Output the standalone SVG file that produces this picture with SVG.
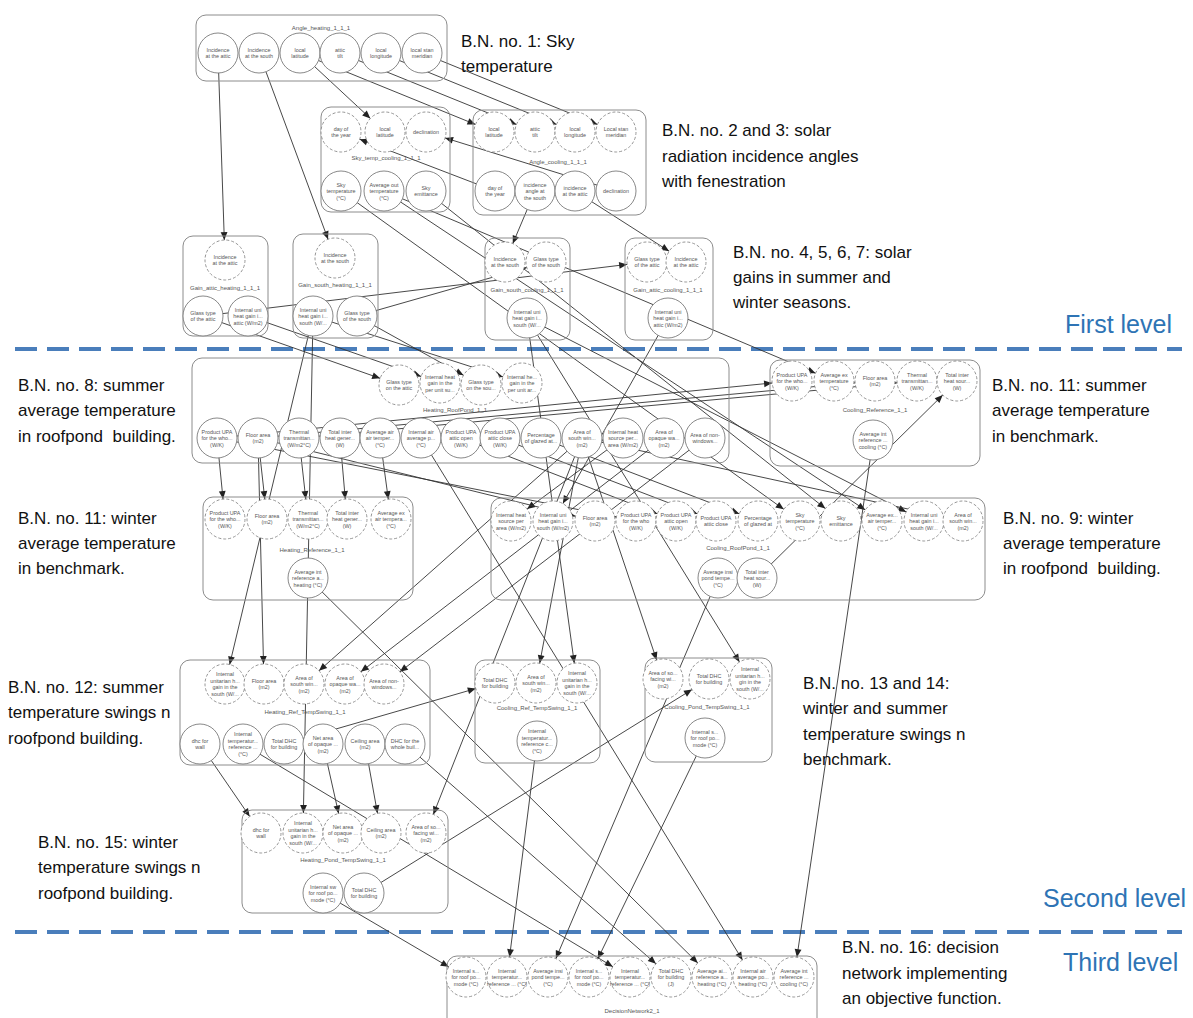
<svg xmlns="http://www.w3.org/2000/svg" width="1193" height="1018" viewBox="0 0 1193 1018">
<style>
.box{fill:none;stroke:#8c8c8c;stroke-width:1}
.s{fill:#fff;stroke:#7a7a7a;stroke-width:0.9}
.d{fill:#fff;stroke:#8a8a8a;stroke-width:0.9;stroke-dasharray:3 2}
.t{font-family:"Liberation Sans",Arial,sans-serif;font-size:5.4px;fill:#555;text-anchor:middle}
.bt{font-family:"Liberation Sans",Arial,sans-serif;font-size:6px;fill:#555;text-anchor:middle}
.ann{font-family:"Liberation Sans",Arial,sans-serif;font-size:17px;fill:#111}
.lvl{font-family:"Liberation Sans",Arial,sans-serif;font-size:25px;fill:#2E74B5}
.sep{stroke:#4A7EBB;stroke-width:4;stroke-dasharray:22 10;fill:none}
#edges line{stroke:#333;stroke-width:0.9;marker-end:url(#ah)}
</style>
<defs>
<marker id="ah" markerUnits="userSpaceOnUse" markerWidth="60" markerHeight="12" refX="48" refY="6" orient="auto" overflow="visible"><path d="M28,6 L20,2.6 L20,9.4 z" fill="#222"/></marker>
</defs>
<rect width="1193" height="1018" fill="#fff"/>

<g id="separators">
<line class="sep" x1="15" y1="349" x2="1182" y2="349"/>
<line class="sep" x1="15" y1="932" x2="1182" y2="932"/>
</g>

<g id="edges">
<line x1="218" y1="53" x2="225" y2="260"/>
<line x1="259" y1="53" x2="335" y2="258"/>
<line x1="300" y1="53" x2="385" y2="132"/>
<line x1="300" y1="53" x2="494" y2="132"/>
<line x1="340" y1="53" x2="535" y2="132"/>
<line x1="381" y1="53" x2="575" y2="132"/>
<line x1="422" y1="53" x2="616" y2="132"/>
<line x1="495" y1="191" x2="341" y2="132"/>
<line x1="616" y1="191" x2="426" y2="132"/>
<line x1="535" y1="191" x2="505" y2="262"/>
<line x1="575" y1="191" x2="686" y2="262"/>
<line x1="341" y1="191" x2="800" y2="521"/>
<line x1="384" y1="191" x2="834" y2="381"/>
<line x1="384" y1="191" x2="882" y2="521"/>
<line x1="426" y1="191" x2="841" y2="521"/>
<line x1="203" y1="316" x2="647" y2="262"/>
<line x1="357" y1="316" x2="546" y2="262"/>
<line x1="203" y1="316" x2="399" y2="385"/>
<line x1="248" y1="316" x2="440" y2="383"/>
<line x1="357" y1="316" x2="481" y2="385"/>
<line x1="313" y1="316" x2="522" y2="383"/>
<line x1="668" y1="318" x2="553" y2="521"/>
<line x1="527" y1="318" x2="924" y2="521"/>
<line x1="527" y1="318" x2="577" y2="683"/>
<line x1="527" y1="318" x2="750" y2="679"/>
<line x1="313" y1="316" x2="225" y2="684"/>
<line x1="313" y1="316" x2="303" y2="833"/>
<line x1="217" y1="438" x2="792" y2="381"/>
<line x1="258" y1="438" x2="875" y2="381"/>
<line x1="299" y1="438" x2="917" y2="381"/>
<line x1="217" y1="438" x2="225" y2="519"/>
<line x1="258" y1="438" x2="267" y2="519"/>
<line x1="299" y1="438" x2="308" y2="519"/>
<line x1="340" y1="438" x2="347" y2="519"/>
<line x1="380" y1="438" x2="391" y2="519"/>
<line x1="623" y1="438" x2="511" y2="521"/>
<line x1="258" y1="438" x2="595" y2="521"/>
<line x1="217" y1="438" x2="636" y2="521"/>
<line x1="461" y1="438" x2="676" y2="521"/>
<line x1="500" y1="438" x2="716" y2="521"/>
<line x1="541" y1="438" x2="758" y2="521"/>
<line x1="582" y1="438" x2="963" y2="521"/>
<line x1="757" y1="578" x2="957" y2="381"/>
<line x1="258" y1="438" x2="264" y2="684"/>
<line x1="582" y1="438" x2="304" y2="684"/>
<line x1="664" y1="438" x2="345" y2="684"/>
<line x1="705" y1="438" x2="384" y2="684"/>
<line x1="582" y1="438" x2="536" y2="683"/>
<line x1="582" y1="438" x2="663" y2="679"/>
<line x1="284" y1="744" x2="495" y2="683"/>
<line x1="364" y1="893" x2="709" y2="679"/>
<line x1="200" y1="744" x2="261" y2="833"/>
<line x1="323" y1="744" x2="343" y2="833"/>
<line x1="365" y1="744" x2="381" y2="833"/>
<line x1="582" y1="438" x2="426" y2="833"/>
<line x1="323" y1="893" x2="466" y2="977"/>
<line x1="537" y1="741" x2="507" y2="977"/>
<line x1="718" y1="578" x2="548" y2="977"/>
<line x1="705" y1="738" x2="589" y2="977"/>
<line x1="243" y1="744" x2="630" y2="977"/>
<line x1="405" y1="744" x2="671" y2="977"/>
<line x1="308" y1="578" x2="712" y2="977"/>
<line x1="421" y1="438" x2="753" y2="977"/>
<line x1="873" y1="440" x2="794" y2="977"/>
</g>

<g id="angle_heating">
<rect class="box" x="196" y="15" width="251" height="66" rx="10"/>
<text class="bt" x="321" y="30">Angle_heating_1_1_1</text>
<g id="ah_inc_attic"><circle class="s" cx="218" cy="53" r="20"/><text class="t" y="51.5"><tspan x="218">Incidence</tspan><tspan x="218" dy="6.5">at the attic</tspan></text></g>
<g id="ah_inc_south"><circle class="s" cx="259" cy="53" r="20"/><text class="t" y="51.5"><tspan x="259">Incidence</tspan><tspan x="259" dy="6.5">at the south</tspan></text></g>
<g id="ah_lat"><circle class="s" cx="300" cy="53" r="20"/><text class="t" y="51.5"><tspan x="300">local</tspan><tspan x="300" dy="6.5">latitude</tspan></text></g>
<g id="ah_tilt"><circle class="s" cx="340" cy="53" r="20"/><text class="t" y="51.5"><tspan x="340">attic</tspan><tspan x="340" dy="6.5">tilt</tspan></text></g>
<g id="ah_long"><circle class="s" cx="381" cy="53" r="20"/><text class="t" y="51.5"><tspan x="381">local</tspan><tspan x="381" dy="6.5">longitude</tspan></text></g>
<g id="ah_mer"><circle class="s" cx="422" cy="53" r="20"/><text class="t" y="51.5"><tspan x="422">local stan</tspan><tspan x="422" dy="6.5">meridian</tspan></text></g>
</g>

<g id="sky_temp_cooling">
<rect class="box" x="321" y="107" width="129" height="105" rx="10"/>
<text class="bt" x="386" y="160">Sky_temp_cooling_1_1_1</text>
<g id="st_day"><circle class="d" cx="341" cy="132" r="20"/><text class="t" y="130.5"><tspan x="341">day of</tspan><tspan x="341" dy="6.5">the year</tspan></text></g>
<g id="st_lat"><circle class="d" cx="385" cy="132" r="20"/><text class="t" y="130.5"><tspan x="385">local</tspan><tspan x="385" dy="6.5">latitude</tspan></text></g>
<g id="st_decl"><circle class="d" cx="426" cy="132" r="20"/><text class="t" x="426" y="134">declination</text></g>
<g id="st_skyt"><circle class="s" cx="341" cy="191" r="20"/><text class="t" y="186.5"><tspan x="341">Sky</tspan><tspan x="341" dy="6.5">temperature</tspan><tspan x="341" dy="6.5">(°C)</tspan></text></g>
<g id="st_avgout"><circle class="s" cx="384" cy="191" r="20"/><text class="t" y="186.5"><tspan x="384">Average out</tspan><tspan x="384" dy="6.5">temperature</tspan><tspan x="384" dy="6.5">(°C)</tspan></text></g>
<g id="st_emit"><circle class="s" cx="426" cy="191" r="20"/><text class="t" y="189.5"><tspan x="426">Sky</tspan><tspan x="426" dy="6.5">emittance</tspan></text></g>
</g>

<g id="angle_cooling">
<rect class="box" x="473" y="110" width="173" height="105" rx="10"/>
<text class="bt" x="558" y="164">Angle_cooling_1_1_1</text>
<g id="ac_lat"><circle class="d" cx="494" cy="132" r="20"/><text class="t" y="130.5"><tspan x="494">local</tspan><tspan x="494" dy="6.5">latitude</tspan></text></g>
<g id="ac_tilt"><circle class="d" cx="535" cy="132" r="20"/><text class="t" y="130.5"><tspan x="535">attic</tspan><tspan x="535" dy="6.5">tilt</tspan></text></g>
<g id="ac_long"><circle class="d" cx="575" cy="132" r="20"/><text class="t" y="130.5"><tspan x="575">local</tspan><tspan x="575" dy="6.5">longitude</tspan></text></g>
<g id="ac_mer"><circle class="d" cx="616" cy="132" r="20"/><text class="t" y="130.5"><tspan x="616">Local stan</tspan><tspan x="616" dy="6.5">meridian</tspan></text></g>
<g id="ac_day"><circle class="s" cx="495" cy="191" r="20"/><text class="t" y="189.5"><tspan x="495">day of</tspan><tspan x="495" dy="6.5">the year</tspan></text></g>
<g id="ac_inc_south"><circle class="s" cx="535" cy="191" r="20"/><text class="t" y="186.5"><tspan x="535">incidence</tspan><tspan x="535" dy="6.5">angle at</tspan><tspan x="535" dy="6.5">the south</tspan></text></g>
<g id="ac_inc_attic"><circle class="s" cx="575" cy="191" r="20"/><text class="t" y="189.5"><tspan x="575">incidence</tspan><tspan x="575" dy="6.5">at the attic</tspan></text></g>
<g id="ac_decl"><circle class="s" cx="616" cy="191" r="20"/><text class="t" x="616" y="193">declination</text></g>
</g>

<g id="gain_attic_heating">
<rect class="box" x="183" y="236" width="85" height="100" rx="10"/>
<text class="bt" x="225" y="290">Gain_attic_heating_1_1_1</text>
<g id="gah_inc"><circle class="d" cx="225" cy="260" r="20"/><text class="t" y="258.5"><tspan x="225">Incidence</tspan><tspan x="225" dy="6.5">at the attic</tspan></text></g>
<g id="gah_glass"><circle class="s" cx="203" cy="316" r="20"/><text class="t" y="314.5"><tspan x="203">Glass type</tspan><tspan x="203" dy="6.5">of the attic</tspan></text></g>
<g id="gah_gain"><circle class="s" cx="248" cy="316" r="20"/><text class="t" y="311.5"><tspan x="248">Internal uni</tspan><tspan x="248" dy="6.5">heat gain i...</tspan><tspan x="248" dy="6.5">attic (W/m2)</tspan></text></g>
</g>

<g id="gain_south_heating">
<rect class="box" x="293" y="234" width="85" height="104" rx="10"/>
<text class="bt" x="335" y="287">Gain_south_heating_1_1_1</text>
<g id="gsh_inc"><circle class="d" cx="335" cy="258" r="20"/><text class="t" y="256.5"><tspan x="335">Incidence</tspan><tspan x="335" dy="6.5">at the south</tspan></text></g>
<g id="gsh_gain"><circle class="s" cx="313" cy="316" r="20"/><text class="t" y="311.5"><tspan x="313">Internal uni</tspan><tspan x="313" dy="6.5">heat gain i...</tspan><tspan x="313" dy="6.5">south (W/...</tspan></text></g>
<g id="gsh_glass"><circle class="s" cx="357" cy="316" r="20"/><text class="t" y="314.5"><tspan x="357">Glass type</tspan><tspan x="357" dy="6.5">of the south</tspan></text></g>
</g>

<g id="gain_south_cooling">
<rect class="box" x="485" y="238" width="85" height="102" rx="10"/>
<text class="bt" x="527" y="292">Gain_south_cooling_1_1_1</text>
<g id="gsc_inc"><circle class="d" cx="505" cy="262" r="20"/><text class="t" y="260.5"><tspan x="505">Incidence</tspan><tspan x="505" dy="6.5">at the south</tspan></text></g>
<g id="gsc_glass"><circle class="d" cx="546" cy="262" r="20"/><text class="t" y="260.5"><tspan x="546">Glass type</tspan><tspan x="546" dy="6.5">of the south</tspan></text></g>
<g id="gsc_gain"><circle class="s" cx="527" cy="318" r="20"/><text class="t" y="313.5"><tspan x="527">Internal uni</tspan><tspan x="527" dy="6.5">heat gain i...</tspan><tspan x="527" dy="6.5">south (W/...</tspan></text></g>
</g>

<g id="gain_attic_cooling">
<rect class="box" x="625" y="238" width="88" height="102" rx="10"/>
<text class="bt" x="668" y="292">Gain_attic_cooling_1_1_1</text>
<g id="gac_glass"><circle class="d" cx="647" cy="262" r="20"/><text class="t" y="260.5"><tspan x="647">Glass type</tspan><tspan x="647" dy="6.5">of the attic</tspan></text></g>
<g id="gac_inc"><circle class="d" cx="686" cy="262" r="20"/><text class="t" y="260.5"><tspan x="686">Incidence</tspan><tspan x="686" dy="6.5">at the attic</tspan></text></g>
<g id="gac_gain"><circle class="s" cx="668" cy="318" r="20"/><text class="t" y="313.5"><tspan x="668">Internal uni</tspan><tspan x="668" dy="6.5">heat gain i...</tspan><tspan x="668" dy="6.5">attic (W/m2)</tspan></text></g>
</g>

<g id="heating_roofpond">
<rect class="box" x="192" y="358" width="537" height="105" rx="10"/>
<text class="bt" x="455" y="412">Heating_RoofPond_1_1</text>
<g id="hr_glass_attic"><circle class="d" cx="399" cy="385" r="20"/><text class="t" y="383.5"><tspan x="399">Glass type</tspan><tspan x="399" dy="6.5">on the attic</tspan></text></g>
<g id="hr_gain_attic"><circle class="d" cx="440" cy="383" r="20"/><text class="t" y="378.5"><tspan x="440">Internal heat</tspan><tspan x="440" dy="6.5">gain in the</tspan><tspan x="440" dy="6.5">per unit su...</tspan></text></g>
<g id="hr_glass_south"><circle class="d" cx="481" cy="385" r="20"/><text class="t" y="383.5"><tspan x="481">Glass type</tspan><tspan x="481" dy="6.5">on the sou...</tspan></text></g>
<g id="hr_gain_south"><circle class="d" cx="522" cy="383" r="20"/><text class="t" y="378.5"><tspan x="522">Internal he...</tspan><tspan x="522" dy="6.5">gain in the</tspan><tspan x="522" dy="6.5">per unit ar...</tspan></text></g>
<g id="hr_upa"><circle class="s" cx="217" cy="438" r="20"/><text class="t" y="433.5"><tspan x="217">Product UPA</tspan><tspan x="217" dy="6.5">for the who...</tspan><tspan x="217" dy="6.5">(W/K)</tspan></text></g>
<g id="hr_floor"><circle class="s" cx="258" cy="438" r="20"/><text class="t" y="436.5"><tspan x="258">Floor area</tspan><tspan x="258" dy="6.5">(m2)</tspan></text></g>
<g id="hr_trans"><circle class="s" cx="299" cy="438" r="20"/><text class="t" y="433.5"><tspan x="299">Thermal</tspan><tspan x="299" dy="6.5">transmittan...</tspan><tspan x="299" dy="6.5">(W/m2°C)</tspan></text></g>
<g id="hr_total"><circle class="s" cx="340" cy="438" r="20"/><text class="t" y="433.5"><tspan x="340">Total inter</tspan><tspan x="340" dy="6.5">heat gener...</tspan><tspan x="340" dy="6.5">(W)</tspan></text></g>
<g id="hr_avgair"><circle class="s" cx="380" cy="438" r="20"/><text class="t" y="433.5"><tspan x="380">Average air</tspan><tspan x="380" dy="6.5">air temper...</tspan><tspan x="380" dy="6.5">(°C)</tspan></text></g>
<g id="hr_intair"><circle class="s" cx="421" cy="438" r="20"/><text class="t" y="433.5"><tspan x="421">Internal air</tspan><tspan x="421" dy="6.5">average p...</tspan><tspan x="421" dy="6.5">(°C)</tspan></text></g>
<g id="hr_upa_open"><circle class="s" cx="461" cy="438" r="20"/><text class="t" y="433.5"><tspan x="461">Product UPA</tspan><tspan x="461" dy="6.5">attic open</tspan><tspan x="461" dy="6.5">(W/K)</tspan></text></g>
<g id="hr_upa_close"><circle class="s" cx="500" cy="438" r="20"/><text class="t" y="433.5"><tspan x="500">Product UPA</tspan><tspan x="500" dy="6.5">attic close</tspan><tspan x="500" dy="6.5">(W/K)</tspan></text></g>
<g id="hr_pct"><circle class="s" cx="541" cy="438" r="20"/><text class="t" y="436.5"><tspan x="541">Percentage</tspan><tspan x="541" dy="6.5">of glazed at...</tspan></text></g>
<g id="hr_south_win"><circle class="s" cx="582" cy="438" r="20"/><text class="t" y="433.5"><tspan x="582">Area of</tspan><tspan x="582" dy="6.5">south win...</tspan><tspan x="582" dy="6.5">(m2)</tspan></text></g>
<g id="hr_source"><circle class="s" cx="623" cy="438" r="20"/><text class="t" y="433.5"><tspan x="623">Internal heat</tspan><tspan x="623" dy="6.5">source per...</tspan><tspan x="623" dy="6.5">area (W/m2)</tspan></text></g>
<g id="hr_opaque"><circle class="s" cx="664" cy="438" r="20"/><text class="t" y="433.5"><tspan x="664">Area of</tspan><tspan x="664" dy="6.5">opaque wa...</tspan><tspan x="664" dy="6.5">(m2)</tspan></text></g>
<g id="hr_nonwin"><circle class="s" cx="705" cy="438" r="20"/><text class="t" y="436.5"><tspan x="705">Area of non-</tspan><tspan x="705" dy="6.5">windows...</tspan></text></g>
</g>

<g id="cooling_reference">
<rect class="box" x="770" y="360" width="210" height="106" rx="10"/>
<text class="bt" x="875" y="412">Cooling_Reference_1_1</text>
<g id="cr_upa"><circle class="d" cx="792" cy="381" r="20"/><text class="t" y="376.5"><tspan x="792">Product UPA</tspan><tspan x="792" dy="6.5">for the who...</tspan><tspan x="792" dy="6.5">(W/K)</tspan></text></g>
<g id="cr_avgex"><circle class="d" cx="834" cy="381" r="20"/><text class="t" y="376.5"><tspan x="834">Average ex</tspan><tspan x="834" dy="6.5">temperature</tspan><tspan x="834" dy="6.5">(°C)</tspan></text></g>
<g id="cr_floor"><circle class="d" cx="875" cy="381" r="20"/><text class="t" y="379.5"><tspan x="875">Floor area</tspan><tspan x="875" dy="6.5">(m2)</tspan></text></g>
<g id="cr_trans"><circle class="d" cx="917" cy="381" r="20"/><text class="t" y="376.5"><tspan x="917">Thermal</tspan><tspan x="917" dy="6.5">transmittan...</tspan><tspan x="917" dy="6.5">(W/K)</tspan></text></g>
<g id="cr_total"><circle class="d" cx="957" cy="381" r="20"/><text class="t" y="376.5"><tspan x="957">Total inter</tspan><tspan x="957" dy="6.5">heat sour...</tspan><tspan x="957" dy="6.5">(W)</tspan></text></g>
<g id="cr_avgint"><circle class="s" cx="873" cy="440" r="20"/><text class="t" y="435.5"><tspan x="873">Average int</tspan><tspan x="873" dy="6.5">reference ...</tspan><tspan x="873" dy="6.5">cooling (°C)</tspan></text></g>
</g>

<g id="heating_reference">
<rect class="box" x="203" y="497" width="210" height="103" rx="10"/>
<text class="bt" x="312" y="552">Heating_Reference_1_1</text>
<g id="hf_upa"><circle class="d" cx="225" cy="519" r="20"/><text class="t" y="514.5"><tspan x="225">Product UPA</tspan><tspan x="225" dy="6.5">for the who...</tspan><tspan x="225" dy="6.5">(W/K)</tspan></text></g>
<g id="hf_floor"><circle class="d" cx="267" cy="519" r="20"/><text class="t" y="517.5"><tspan x="267">Floor area</tspan><tspan x="267" dy="6.5">(m2)</tspan></text></g>
<g id="hf_trans"><circle class="d" cx="308" cy="519" r="20"/><text class="t" y="514.5"><tspan x="308">Thermal</tspan><tspan x="308" dy="6.5">transmittan...</tspan><tspan x="308" dy="6.5">(W/m2°C)</tspan></text></g>
<g id="hf_total"><circle class="d" cx="347" cy="519" r="20"/><text class="t" y="514.5"><tspan x="347">Total inter</tspan><tspan x="347" dy="6.5">heat gener...</tspan><tspan x="347" dy="6.5">(W)</tspan></text></g>
<g id="hf_avgex"><circle class="d" cx="391" cy="519" r="20"/><text class="t" y="514.5"><tspan x="391">Average ex</tspan><tspan x="391" dy="6.5">air tempera...</tspan><tspan x="391" dy="6.5">(°C)</tspan></text></g>
<g id="hf_avgint"><circle class="s" cx="308" cy="578" r="20"/><text class="t" y="573.5"><tspan x="308">Average int</tspan><tspan x="308" dy="6.5">reference a...</tspan><tspan x="308" dy="6.5">heating (°C)</tspan></text></g>
</g>

<g id="cooling_roofpond">
<rect class="box" x="491" y="498" width="494" height="102" rx="10"/>
<text class="bt" x="738" y="550">Cooling_RoofPond_1_1</text>
<g id="cp_source"><circle class="d" cx="511" cy="521" r="20"/><text class="t" y="516.5"><tspan x="511">Internal heat</tspan><tspan x="511" dy="6.5">source per</tspan><tspan x="511" dy="6.5">area (W/m2)</tspan></text></g>
<g id="cp_gain1"><circle class="d" cx="553" cy="521" r="20"/><text class="t" y="516.5"><tspan x="553">Internal uni</tspan><tspan x="553" dy="6.5">heat gain i...</tspan><tspan x="553" dy="6.5">south (W/m2)</tspan></text></g>
<g id="cp_floor"><circle class="d" cx="595" cy="521" r="20"/><text class="t" y="519.5"><tspan x="595">Floor area</tspan><tspan x="595" dy="6.5">(m2)</tspan></text></g>
<g id="cp_upa"><circle class="d" cx="636" cy="521" r="20"/><text class="t" y="516.5"><tspan x="636">Product UPA</tspan><tspan x="636" dy="6.5">for the who</tspan><tspan x="636" dy="6.5">(W/K)</tspan></text></g>
<g id="cp_upa_open"><circle class="d" cx="676" cy="521" r="20"/><text class="t" y="516.5"><tspan x="676">Product UPA</tspan><tspan x="676" dy="6.5">attic open</tspan><tspan x="676" dy="6.5">(W/K)</tspan></text></g>
<g id="cp_upa_close"><circle class="d" cx="716" cy="521" r="20"/><text class="t" y="519.5"><tspan x="716">Product UPA</tspan><tspan x="716" dy="6.5">attic close</tspan></text></g>
<g id="cp_pct"><circle class="d" cx="758" cy="521" r="20"/><text class="t" y="519.5"><tspan x="758">Percentage</tspan><tspan x="758" dy="6.5">of glazed at</tspan></text></g>
<g id="cp_skyt"><circle class="d" cx="800" cy="521" r="20"/><text class="t" y="516.5"><tspan x="800">Sky</tspan><tspan x="800" dy="6.5">temperature</tspan><tspan x="800" dy="6.5">(°C)</tspan></text></g>
<g id="cp_emit"><circle class="d" cx="841" cy="521" r="20"/><text class="t" y="519.5"><tspan x="841">Sky</tspan><tspan x="841" dy="6.5">emittance</tspan></text></g>
<g id="cp_avgex"><circle class="d" cx="882" cy="521" r="20"/><text class="t" y="516.5"><tspan x="882">Average ex...</tspan><tspan x="882" dy="6.5">air temper...</tspan><tspan x="882" dy="6.5">(°C)</tspan></text></g>
<g id="cp_gain2"><circle class="d" cx="924" cy="521" r="20"/><text class="t" y="516.5"><tspan x="924">Internal uni</tspan><tspan x="924" dy="6.5">heat gain i...</tspan><tspan x="924" dy="6.5">south (W/...</tspan></text></g>
<g id="cp_south_win"><circle class="d" cx="963" cy="521" r="20"/><text class="t" y="516.5"><tspan x="963">Area of</tspan><tspan x="963" dy="6.5">south win...</tspan><tspan x="963" dy="6.5">(m2)</tspan></text></g>
<g id="cp_pondt"><circle class="s" cx="718" cy="578" r="20"/><text class="t" y="573.5"><tspan x="718">Average insi</tspan><tspan x="718" dy="6.5">pond tempe...</tspan><tspan x="718" dy="6.5">(°C)</tspan></text></g>
<g id="cp_total"><circle class="s" cx="757" cy="578" r="20"/><text class="t" y="573.5"><tspan x="757">Total inter</tspan><tspan x="757" dy="6.5">heat sour...</tspan><tspan x="757" dy="6.5">(W)</tspan></text></g>
</g>

<g id="heating_ref_tempswing">
<rect class="box" x="180" y="660" width="250" height="105" rx="10"/>
<text class="bt" x="305" y="714">Heating_Ref_TempSwing_1_1</text>
<g id="hs_gain"><circle class="d" cx="225" cy="684" r="20"/><text class="t" y="676"><tspan x="225">Internal</tspan><tspan x="225" dy="6.5">unitarian h...</tspan><tspan x="225" dy="6.5">gain in the</tspan><tspan x="225" dy="6.5">south (W/...</tspan></text></g>
<g id="hs_floor"><circle class="d" cx="264" cy="684" r="20"/><text class="t" y="682.5"><tspan x="264">Floor area</tspan><tspan x="264" dy="6.5">(m2)</tspan></text></g>
<g id="hs_south_win"><circle class="d" cx="304" cy="684" r="20"/><text class="t" y="679.5"><tspan x="304">Area of</tspan><tspan x="304" dy="6.5">south win...</tspan><tspan x="304" dy="6.5">(m2)</tspan></text></g>
<g id="hs_opaque"><circle class="d" cx="345" cy="684" r="20"/><text class="t" y="679.5"><tspan x="345">Area of</tspan><tspan x="345" dy="6.5">opaque wa...</tspan><tspan x="345" dy="6.5">(m2)</tspan></text></g>
<g id="hs_nonwin"><circle class="d" cx="384" cy="684" r="20"/><text class="t" y="682.5"><tspan x="384">Area of non-</tspan><tspan x="384" dy="6.5">windows...</tspan></text></g>
<g id="hs_dhc_wall"><circle class="s" cx="200" cy="744" r="20"/><text class="t" y="742.5"><tspan x="200">dhc for</tspan><tspan x="200" dy="6.5">wall</tspan></text></g>
<g id="hs_tref"><circle class="s" cx="243" cy="744" r="20"/><text class="t" y="736"><tspan x="243">Internal</tspan><tspan x="243" dy="6.5">temperatur...</tspan><tspan x="243" dy="6.5">reference ...</tspan><tspan x="243" dy="6.5">(°C)</tspan></text></g>
<g id="hs_dhc_bld"><circle class="s" cx="284" cy="744" r="20"/><text class="t" y="742.5"><tspan x="284">Total DHC</tspan><tspan x="284" dy="6.5">for building</tspan></text></g>
<g id="hs_net"><circle class="s" cx="323" cy="744" r="20"/><text class="t" y="739.5"><tspan x="323">Net area</tspan><tspan x="323" dy="6.5">of opaque ...</tspan><tspan x="323" dy="6.5">(m2)</tspan></text></g>
<g id="hs_ceiling"><circle class="s" cx="365" cy="744" r="20"/><text class="t" y="742.5"><tspan x="365">Ceiling area</tspan><tspan x="365" dy="6.5">(m2)</tspan></text></g>
<g id="hs_dhc_whole"><circle class="s" cx="405" cy="744" r="20"/><text class="t" y="742.5"><tspan x="405">DHC for the</tspan><tspan x="405" dy="6.5">whole buil...</tspan></text></g>
</g>

<g id="cooling_ref_tempswing">
<rect class="box" x="475" y="660" width="125" height="103" rx="10"/>
<text class="bt" x="537" y="710">Cooling_Ref_TempSwing_1_1</text>
<g id="cs_dhc"><circle class="d" cx="495" cy="683" r="20"/><text class="t" y="681.5"><tspan x="495">Total DHC</tspan><tspan x="495" dy="6.5">for building</tspan></text></g>
<g id="cs_south_win"><circle class="d" cx="536" cy="683" r="20"/><text class="t" y="678.5"><tspan x="536">Area of</tspan><tspan x="536" dy="6.5">south win...</tspan><tspan x="536" dy="6.5">(m2)</tspan></text></g>
<g id="cs_gain"><circle class="d" cx="577" cy="683" r="20"/><text class="t" y="675"><tspan x="577">Internal</tspan><tspan x="577" dy="6.5">unitarian h...</tspan><tspan x="577" dy="6.5">gain in the</tspan><tspan x="577" dy="6.5">south (W/...</tspan></text></g>
<g id="cs_tref"><circle class="s" cx="537" cy="741" r="20"/><text class="t" y="733"><tspan x="537">Internal</tspan><tspan x="537" dy="6.5">temperatur...</tspan><tspan x="537" dy="6.5">reference c...</tspan><tspan x="537" dy="6.5">(°C)</tspan></text></g>
</g>

<g id="cooling_pond_tempswing">
<rect class="box" x="645" y="658" width="127" height="104" rx="10"/>
<text class="bt" x="707" y="709">Cooling_Pond_TempSwing_1_1</text>
<g id="cps_south_win"><circle class="d" cx="663" cy="679" r="20"/><text class="t" y="674.5"><tspan x="663">Area of so...</tspan><tspan x="663" dy="6.5">facing wi...</tspan><tspan x="663" dy="6.5">(m2)</tspan></text></g>
<g id="cps_dhc"><circle class="d" cx="709" cy="679" r="20"/><text class="t" y="677.5"><tspan x="709">Total DHC</tspan><tspan x="709" dy="6.5">for building</tspan></text></g>
<g id="cps_gain"><circle class="d" cx="750" cy="679" r="20"/><text class="t" y="671"><tspan x="750">Internal</tspan><tspan x="750" dy="6.5">unitarian h...</tspan><tspan x="750" dy="6.5">gin in the</tspan><tspan x="750" dy="6.5">south (W/...</tspan></text></g>
<g id="cps_tswing"><circle class="s" cx="705" cy="738" r="20"/><text class="t" y="733.5"><tspan x="705">Internal s...</tspan><tspan x="705" dy="6.5">for roof po...</tspan><tspan x="705" dy="6.5">mode (°C)</tspan></text></g>
</g>

<g id="heating_pond_tempswing">
<rect class="box" x="242" y="810" width="206" height="103" rx="10"/>
<text class="bt" x="343" y="862">Heating_Pond_TempSwing_1_1</text>
<g id="hps_dhc_wall"><circle class="d" cx="261" cy="833" r="20"/><text class="t" y="831.5"><tspan x="261">dhc for</tspan><tspan x="261" dy="6.5">wall</tspan></text></g>
<g id="hps_gain"><circle class="d" cx="303" cy="833" r="20"/><text class="t" y="825"><tspan x="303">Internal</tspan><tspan x="303" dy="6.5">unitarian h...</tspan><tspan x="303" dy="6.5">gain in the</tspan><tspan x="303" dy="6.5">south (W/...</tspan></text></g>
<g id="hps_net"><circle class="d" cx="343" cy="833" r="20"/><text class="t" y="828.5"><tspan x="343">Net area</tspan><tspan x="343" dy="6.5">of opaque ...</tspan><tspan x="343" dy="6.5">(m2)</tspan></text></g>
<g id="hps_ceiling"><circle class="d" cx="381" cy="833" r="20"/><text class="t" y="831.5"><tspan x="381">Ceiling area</tspan><tspan x="381" dy="6.5">(m2)</tspan></text></g>
<g id="hps_south_win"><circle class="d" cx="426" cy="833" r="20"/><text class="t" y="828.5"><tspan x="426">Area of so...</tspan><tspan x="426" dy="6.5">facing wi...</tspan><tspan x="426" dy="6.5">(m2)</tspan></text></g>
<g id="hps_tswing"><circle class="s" cx="323" cy="893" r="20"/><text class="t" y="888.5"><tspan x="323">Internal sw</tspan><tspan x="323" dy="6.5">for roof po...</tspan><tspan x="323" dy="6.5">mode (°C)</tspan></text></g>
<g id="hps_dhc"><circle class="s" cx="364" cy="893" r="20"/><text class="t" y="891.5"><tspan x="364">Total DHC</tspan><tspan x="364" dy="6.5">for building</tspan></text></g>
</g>

<g id="decision_network">
<rect class="box" x="447" y="956" width="370" height="72" rx="10"/>
<text class="bt" x="632" y="1013">DecisionNetwork2_1</text>
<g id="dn_1"><circle class="d" cx="466" cy="977" r="20"/><text class="t" y="972.5"><tspan x="466">Internal s...</tspan><tspan x="466" dy="6.5">for roof po...</tspan><tspan x="466" dy="6.5">mode (°C)</tspan></text></g>
<g id="dn_2"><circle class="d" cx="507" cy="977" r="20"/><text class="t" y="972.5"><tspan x="507">Internal</tspan><tspan x="507" dy="6.5">temperatur...</tspan><tspan x="507" dy="6.5">reference ... (°C)</tspan></text></g>
<g id="dn_3"><circle class="d" cx="548" cy="977" r="20"/><text class="t" y="972.5"><tspan x="548">Average insi</tspan><tspan x="548" dy="6.5">pond tempe...</tspan><tspan x="548" dy="6.5">(°C)</tspan></text></g>
<g id="dn_4"><circle class="d" cx="589" cy="977" r="20"/><text class="t" y="972.5"><tspan x="589">Internal s...</tspan><tspan x="589" dy="6.5">for roof po...</tspan><tspan x="589" dy="6.5">mode (°C)</tspan></text></g>
<g id="dn_5"><circle class="d" cx="630" cy="977" r="20"/><text class="t" y="972.5"><tspan x="630">Internal</tspan><tspan x="630" dy="6.5">temperatur...</tspan><tspan x="630" dy="6.5">reference ... (°C)</tspan></text></g>
<g id="dn_6"><circle class="d" cx="671" cy="977" r="20"/><text class="t" y="972.5"><tspan x="671">Total DHC</tspan><tspan x="671" dy="6.5">for building</tspan><tspan x="671" dy="6.5">(J)</tspan></text></g>
<g id="dn_7"><circle class="d" cx="712" cy="977" r="20"/><text class="t" y="972.5"><tspan x="712">Average ai...</tspan><tspan x="712" dy="6.5">reference a...</tspan><tspan x="712" dy="6.5">heating (°C)</tspan></text></g>
<g id="dn_8"><circle class="d" cx="753" cy="977" r="20"/><text class="t" y="972.5"><tspan x="753">Internal air</tspan><tspan x="753" dy="6.5">average po...</tspan><tspan x="753" dy="6.5">heating (°C)</tspan></text></g>
<g id="dn_9"><circle class="d" cx="794" cy="977" r="20"/><text class="t" y="972.5"><tspan x="794">Average int</tspan><tspan x="794" dy="6.5">reference ...</tspan><tspan x="794" dy="6.5">cooling (°C)</tspan></text></g>
</g>

<g id="annotations">
<text class="ann" x="461" y="47">B.N. no. 1: Sky</text>
<text class="ann" x="461" y="72">temperature</text>
<text class="ann" x="662" y="136">B.N. no. 2 and 3: solar</text>
<text class="ann" x="662" y="162">radiation incidence angles</text>
<text class="ann" x="662" y="187">with fenestration</text>
<text class="ann" x="733" y="258">B.N. no. 4, 5, 6, 7: solar</text>
<text class="ann" x="733" y="283">gains in summer and</text>
<text class="ann" x="733" y="308">winter seasons.</text>
<text class="ann" x="18" y="391">B.N. no. 8: summer</text>
<text class="ann" x="18" y="416">average temperature</text>
<text class="ann" x="18" y="442" xml:space="preserve">in roofpond  building.</text>
<text class="ann" x="992" y="391">B.N. no. 11: summer</text>
<text class="ann" x="992" y="416">average temperature</text>
<text class="ann" x="992" y="442">in benchmark.</text>
<text class="ann" x="18" y="524">B.N. no. 11: winter</text>
<text class="ann" x="18" y="549">average temperature</text>
<text class="ann" x="18" y="574">in benchmark.</text>
<text class="ann" x="1003" y="524">B.N. no. 9: winter</text>
<text class="ann" x="1003" y="549">average temperature</text>
<text class="ann" x="1003" y="574" xml:space="preserve">in roofpond  building.</text>
<text class="ann" x="8" y="693">B.N. no. 12: summer</text>
<text class="ann" x="8" y="718">temperature swings n</text>
<text class="ann" x="8" y="744">roofpond building.</text>
<text class="ann" x="803" y="689">B.N. no. 13 and 14:</text>
<text class="ann" x="803" y="714">winter and summer</text>
<text class="ann" x="803" y="740">temperature swings n</text>
<text class="ann" x="803" y="765">benchmark.</text>
<text class="ann" x="38" y="848">B.N. no. 15: winter</text>
<text class="ann" x="38" y="873">temperature swings n</text>
<text class="ann" x="38" y="899">roofpond building.</text>
<text class="ann" x="842" y="953">B.N. no. 16: decision</text>
<text class="ann" x="842" y="979">network implementing</text>
<text class="ann" x="842" y="1004">an objective function.</text>
<text class="lvl" x="1065" y="333">First level</text>
<text class="lvl" x="1043" y="907">Second level</text>
<text class="lvl" x="1063" y="971">Third level</text>
</g>
</svg>
